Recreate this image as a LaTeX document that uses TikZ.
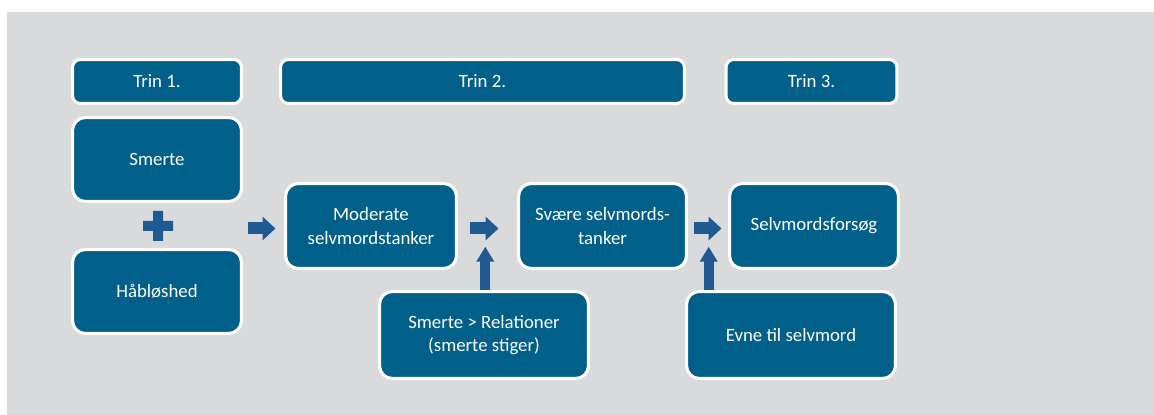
\documentclass[tikz,border=0pt]{standalone}
\usepackage{fontspec}
\setmainfont{Carlito}
\usepackage{xcolor}
\usetikzlibrary{arrows.meta}

\definecolor{boxblue}{HTML}{00608A}
\definecolor{arrowblue}{HTML}{1F5A93}
\definecolor{panelgray}{HTML}{D9DADC}

\tikzset{
  trinbox/.style={draw=white, line width=0.06cm, fill=boxblue, rounded corners=0.16cm,
    text=white, minimum height=0.88cm},
  stepbox/.style={draw=white, line width=0.06cm, fill=boxblue, rounded corners=0.26cm,
    text=white, align=center, minimum width=3.38cm, minimum height=1.68cm},
  flowright/.style={draw=arrowblue, line width=0.24cm, -{Triangle[width=0.46cm,length=0.26cm]}},
  flowup/.style={draw=arrowblue, line width=0.2cm, -{Triangle[width=0.34cm,length=0.3cm]}},
}

\begin{document}
\begin{tikzpicture}[x=0.02cm, y=-0.02cm]
	\tikzstyle{every node}=[font=\fontsize{10.7}{13.4}\selectfont];

	%Panel
	\useasboundingbox (0, 0) rectangle (1154, 415);
	\fill[panelgray] (7, 12) rectangle (1154, 415);

	%Steps
	\node[trinbox, minimum width=3.38cm] (trin1) at (157, 81.5) {Trin 1.};
	\node[trinbox, minimum width=8.08cm] (trin2) at (482.5, 81.5) {Trin 2.};
	\node[trinbox, minimum width=3.42cm] (trin3) at (811.5, 81.5) {Trin 3.};

	%Boxes
	\node[stepbox] (smerte) at (157, 159.5) {Smerte};
	\node[stepbox] (hablos) at (157, 291.5) {Håbløshed};
	\node[stepbox, minimum width=3.42cm, minimum height=1.70cm] (mod) at (371, 226) {Moderate\\selvmordstanker};
	\node[stepbox, minimum width=3.36cm, minimum height=1.70cm] (svaere) at (602.5, 226) {Svære selvmords-\\tanker};
	\node[stepbox, minimum width=3.38cm, minimum height=1.70cm] (forsog) at (814, 226) {Selvmordsforsøg};
	\node[stepbox, minimum width=4.18cm, minimum height=1.74cm] (rel) at (484, 335) {Smerte > Relationer\\(smerte stiger)};
	\node[stepbox, minimum width=4.18cm, minimum height=1.74cm] (evne) at (791, 335) {Evne til selvmord};

	%Plus
	\coordinate (plus) at (158, 226);
	\fill[arrowblue] (143, 221) rectangle (173, 231) (153, 211) rectangle (163, 241);

	%Arrows
	\coordinate (row) at (0, 228.5);
	\coordinate (upA) at (485.3, 246.7);
	\coordinate (upB) at (708.7, 246.7);
	\draw[flowright, shorten <=0.10cm, shorten >=0.17cm] (row -| smerte.east) -- (row -| mod.west);
	\draw[flowright, shorten <=0.25cm, shorten >=0.37cm] (row -| mod.east) -- (row -| svaere.west);
	\draw[flowright, shorten <=0.13cm, shorten >=0.13cm] (row -| svaere.east) -- (row -| forsog.west);
	\draw[flowup] (upA |- rel.north) -- (upA);
	\draw[flowup] (upB |- evne.north) -- (upB);
\end{tikzpicture}
\end{document}
